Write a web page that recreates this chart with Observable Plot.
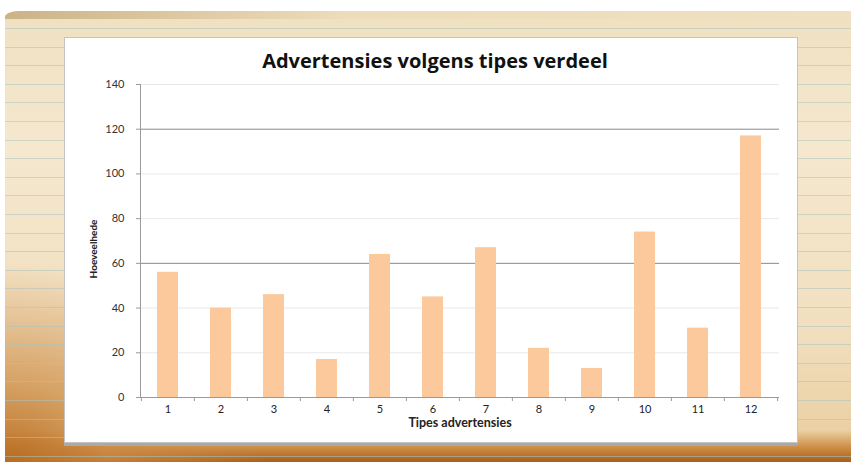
<!DOCTYPE html>
<html>
<head>
<meta charset="utf-8">
<script src="https://cdn.jsdelivr.net/npm/d3@7"></script>
<script src="https://cdn.jsdelivr.net/npm/@observablehq/plot@0.6"></script>
<style>
  html, body { margin: 0; padding: 0; }
  body {
    width: 851px; height: 462px; overflow: hidden; position: relative;
    background: #ffffff;
    font-family: Lato, "Open Sans", sans-serif;
  }
  #paper {
    position: absolute; left: 5px; top: 11px; width: 846px; height: 451px;
    border-top-left-radius: 14px 6px;
    background:
      repeating-linear-gradient(to bottom, transparent 0 17px, rgba(170,195,190,0.55) 17px 18px, transparent 18px 18.6px),
      radial-gradient(ellipse 260px 200px at 0% 100%, rgba(185,110,35,0.95) 0%, rgba(205,140,70,0.7) 40%, rgba(225,185,130,0) 100%),
      linear-gradient(to bottom, rgba(0,0,0,0) 0%, rgba(0,0,0,0) 93%, rgba(200,130,55,0.9) 97%, rgba(165,95,30,1) 100%),
      linear-gradient(to bottom, #efe0c0 0%, #f5e8cf 30%, #f1dfbf 70%, #e8cc9c 100%);
  }
  #edge {
    position: absolute; left: 5px; top: 11px; width: 846px; height: 8px;
    border-top-left-radius: 14px 6px;
    background: linear-gradient(to right, rgba(190,160,110,0.7), rgba(230,210,170,0.3) 40%, rgba(240,225,195,0) 100%);
  }
  #panel {
    position: absolute; left: 64px; top: 37px; width: 734px; height: 406px;
    background: #ffffff;
    border: 1px solid #c4c4c4;
    box-sizing: border-box;
    box-shadow: 0 3px 0 #a9a9a9;
  }
  #title {
    position: absolute; left: 0; top: 9px; width: 740px; text-align: center;
    font-family: "Open Sans", sans-serif; font-weight: bold; font-size: 20px; color: #111;
  }
  #chart { position: absolute; left: -1px; top: 39px; }
</style>
</head>
<body>
<div id="paper"></div>
<div id="edge"></div>
<div id="panel">
  <div id="title">Advertensies volgens tipes verdeel</div>
  <div id="chart"></div>
</div>
<script>
const categories = ["1","2","3","4","5","6","7","8","9","10","11","12"];
const values = [56, 40, 46, 17, 64, 45, 67, 22, 13, 74, 31, 117];
const yTicks = [0, 20, 40, 60, 80, 100, 120, 140];
const lightGrid = [20, 40, 80, 100, 140];
const darkGrid = [60, 120];
const xLabel = "Tipes advertensies";
const yLabel = "Hoeveelhede";

const data = categories.map((c, i) => ({cat: c, value: values[i]}));

const W = 733, H = 367;
const mL = 76, mR = 18, mT = 7, mB = 47;
const halfStep = (W - mL - mR) / categories.length / 2;

const chart = Plot.plot({
  width: W,
  height: H,
  marginLeft: mL,
  marginRight: mR,
  marginTop: mT,
  marginBottom: mB,
  style: {fontFamily: "Lato, sans-serif", fontSize: "11px", color: "#333", background: "transparent", overflow: "visible"},
  x: {domain: categories, paddingInner: 0.6, paddingOuter: 0.3, label: null},
  y: {domain: [0, 140], label: null},
  marks: [
    Plot.ruleY(lightGrid, {stroke: "#e9e9e9", strokeWidth: 1}),
    Plot.ruleY(darkGrid, {stroke: "#8a8a8a", strokeWidth: 1}),
    Plot.barY(data, {x: "cat", y: "value", fill: "#fbc99b"}),
    Plot.frame({anchor: "left", stroke: "#9a9a9a"}),
    Plot.ruleY([0], {stroke: "#9a9a9a"}),
    Plot.axisY({ticks: yTicks, tickSize: 4, tickPadding: 12, stroke: "#9a9a9a", fill: "#333", label: null}),
    Plot.axisX({tickSize: 0, tickPadding: 8, fill: "#222", label: null}),
    Plot.axisX({tickSize: 4, tickFormat: () => "", dx: -halfStep, stroke: "#9a9a9a", label: null}),
    Plot.axisX({ticks: [categories[categories.length - 1]], tickSize: 4, tickFormat: () => "", dx: halfStep, stroke: "#9a9a9a", label: null}),
    Plot.text([xLabel], {frameAnchor: "bottom", dy: 29, fontWeight: "bold", fontSize: 12.5, fill: "#222"}),
    Plot.text([yLabel], {frameAnchor: "left", textAnchor: "middle", rotate: -90, dx: -47, dy: 8, fontWeight: "bold", fontSize: 10, fill: "#222"})
  ]
});
document.getElementById("chart").appendChild(chart);
</script>
</body>
</html>
